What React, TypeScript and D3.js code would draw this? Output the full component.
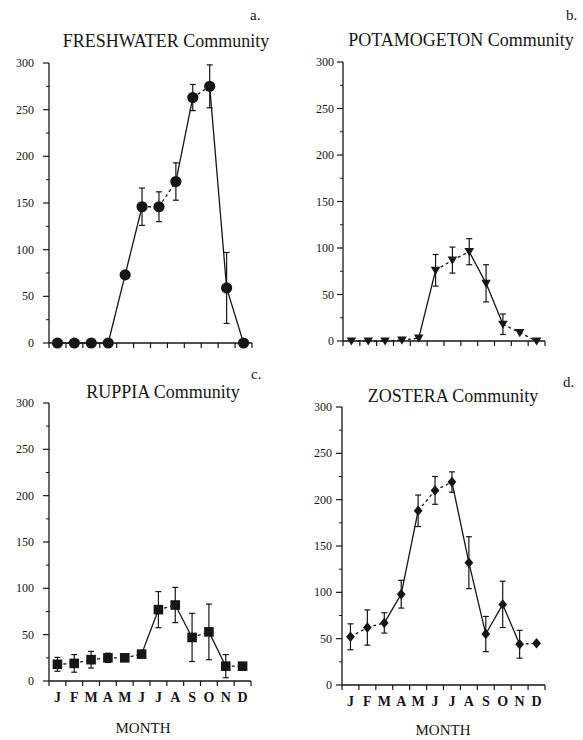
import React from "react";
import * as d3 from "d3";

// month labels along the x axis
const months = ["J", "F", "M", "A", "M", "J", "J", "A", "S", "O", "N", "D"];
const yTicks = [0, 50, 100, 150, 200, 250, 300];

// a. FRESHWATER
const freshMean = [0, 0, 0, 0, 73, 146, 146, 173, 263, 275, 59, 0];
const freshErr = [0, 0, 0, 0, 0, 20, 16, 20, 14, 23, 38, 0];
const freshSolid = [1, 1, 1, 1, 1, 0, 0, 1, 0, 1, 1];

// b. POTAMOGETON
const potaMean = [0, 0, 0, 1, 3, 76, 87, 96, 62, 18, 9, 0];
const potaErr = [0, 0, 0, 0, 0, 17, 14, 14, 20, 11, 0, 0];
const potaSolid = [0, 0, 0, 0, 1, 0, 0, 1, 1, 0, 0];

// c. RUPPIA
const ruppMean = [18, 19, 23, 25, 25, 29, 77, 82, 47, 53, 16, 16];
const ruppErr = [7.5, 9.5, 9, 5, 0, 3, 19.5, 19, 26, 30, 12.5, 0];
const ruppSolid = [0, 0, 0, 0, 0, 1, 0, 1, 0, 1, 0];

// d. ZOSTERA
const zostMean = [52, 62, 67, 98, 188, 210, 219, 132, 55, 87, 44, 45];
const zostErr = [14, 19, 11, 15, 17, 15, 11, 28, 19, 25, 15, 0];
const zostSolid = [0, 0, 1, 1, 0, 0, 1, 1, 1, 1, 0];

const ink = "#161616";
const serif = "'Liberation Serif', 'DejaVu Serif', serif";

type PanelProps = {
  left: number; top: number; bottom: number; width: number;
  title: string; titleX: number; titleY: number;
  letter: string; letterX: number; letterY: number;
  labelGap: number;
  mean: number[]; err: number[]; solid: number[];
  marker: "circle" | "triangle" | "square" | "diamond";
  showMonths: boolean; monthX?: number; monthY?: number;
};

const Marker = ({ kind, x, y }: { kind: string; x: number; y: number }) => {
  if (kind === "circle") return <circle cx={x} cy={y} r={5.6} fill={ink} />;
  if (kind === "square") return <rect x={x - 4.8} y={y - 4.8} width={9.6} height={9.6} fill={ink} />;
  if (kind === "diamond")
    return <path d={`M${x},${y - 5.2}L${x + 4.4},${y}L${x},${y + 5.2}L${x - 4.4},${y}Z`} fill={ink} />;
  return <path d={`M${x - 4.8},${y - 3.6}L${x + 4.8},${y - 3.6}L${x},${y + 4.6}Z`} fill={ink} />;
};

const Panel = (p: PanelProps) => {
  const x = d3.scaleLinear().domain([0, 12]).range([p.left, p.left + p.width]);
  const y = d3.scaleLinear().domain([0, 300]).range([p.bottom, p.top]);
  const minor = d3.range(25, 300, 50);
  const pts = p.mean.map((v, i) => [x(i + 0.5), y(v)] as [number, number]);
  const line = d3.line();

  return (
    <g>
      <text x={p.titleX} y={p.titleY} fontSize={18} textAnchor="middle" fontFamily={serif} fill={ink}>{p.title}</text>
      <text x={p.letterX} y={p.letterY} fontSize={15} fontFamily={serif} fill={ink}>{p.letter}</text>

      {/* y axis */}
      <line x1={p.left} x2={p.left} y1={y(300)} y2={y(0)} stroke={ink} strokeWidth={1.3} />
      {yTicks.map(t => (
        <g key={t}>
          <line x1={p.left - 6} x2={p.left} y1={y(t)} y2={y(t)} stroke={ink} strokeWidth={1.2} />
          <text x={p.left - p.labelGap} y={y(t) + 4} fontSize={12} textAnchor="end" fontFamily={serif} fill={ink}>{t}</text>
        </g>
      ))}
      {minor.map(t => (
        <line key={t} x1={p.left - 3} x2={p.left} y1={y(t)} y2={y(t)} stroke={ink} strokeWidth={1} />
      ))}

      {/* x axis */}
      <line x1={p.left} x2={p.left + p.width} y1={y(0)} y2={y(0)} stroke={ink} strokeWidth={1.3} />
      {d3.range(0, 13).map(i => (
        <line key={i} x1={x(i)} x2={x(i)} y1={y(0)} y2={y(0) + 5} stroke={ink} strokeWidth={1.2} />
      ))}
      {p.showMonths && months.map((m, i) => (
        <text key={i} x={x(i + 0.5)} y={y(0) + 21} fontSize={14} fontWeight="bold" textAnchor="middle" fontFamily={serif} fill={ink}>{m}</text>
      ))}
      {p.showMonths && (
        <text x={p.monthX} y={p.monthY} fontSize={15} textAnchor="middle" fontFamily={serif} fill={ink}>MONTH</text>
      )}

      {/* connecting segments */}
      {p.solid.map((s, i) => (
        <path key={i} d={line([pts[i], pts[i + 1]]) || ""} stroke={ink} strokeWidth={1.3} fill="none"
          strokeDasharray={s ? undefined : "3,3"} />
      ))}

      {/* error bars */}
      {p.err.map((e, i) => e > 0 ? (
        <g key={i} stroke={ink} strokeWidth={1.2}>
          <line x1={x(i + 0.5)} x2={x(i + 0.5)} y1={y(p.mean[i] + e)} y2={y(p.mean[i] - e)} />
          <line x1={x(i + 0.5) - 3} x2={x(i + 0.5) + 3} y1={y(p.mean[i] + e)} y2={y(p.mean[i] + e)} />
          <line x1={x(i + 0.5) - 3} x2={x(i + 0.5) + 3} y1={y(p.mean[i] - e)} y2={y(p.mean[i] - e)} />
        </g>
      ) : null)}

      {pts.map((pt, i) => <Marker key={i} kind={p.marker} x={pt[0]} y={pt[1]} />)}
    </g>
  );
};

export default function App() {
  return (
    <svg width={583} height={740} style={{ position: "absolute", left: 0, top: 0, background: "#fff" }}>
      <rect width={583} height={740} fill="#fff" />
      <Panel left={49} top={63} bottom={343} width={203}
        title="FRESHWATER Community" titleX={166} titleY={47}
        letter="a." letterX={250} letterY={20} labelGap={15}
        mean={freshMean} err={freshErr} solid={freshSolid} marker="circle" showMonths={false} />
      <Panel left={343} top={62} bottom={341} width={202}
        title="POTAMOGETON Community" titleX={461} titleY={46}
        letter="b." letterX={566} letterY={20} labelGap={9}
        mean={potaMean} err={potaErr} solid={potaSolid} marker="triangle" showMonths={false} />
      <Panel left={49} top={403} bottom={681} width={202}
        title="RUPPIA Community" titleX={163} titleY={398}
        letter="c." letterX={251} letterY={379} labelGap={15}
        mean={ruppMean} err={ruppErr} solid={ruppSolid} marker="square" showMonths={true}
        monthX={143} monthY={733} />
      <Panel left={342} top={407} bottom={685} width={203}
        title="ZOSTERA Community" titleX={453} titleY={402}
        letter="d." letterX={563} letterY={387} labelGap={10}
        mean={zostMean} err={zostErr} solid={zostSolid} marker="diamond" showMonths={true}
        monthX={443} monthY={735} />
    </svg>
  );
}
